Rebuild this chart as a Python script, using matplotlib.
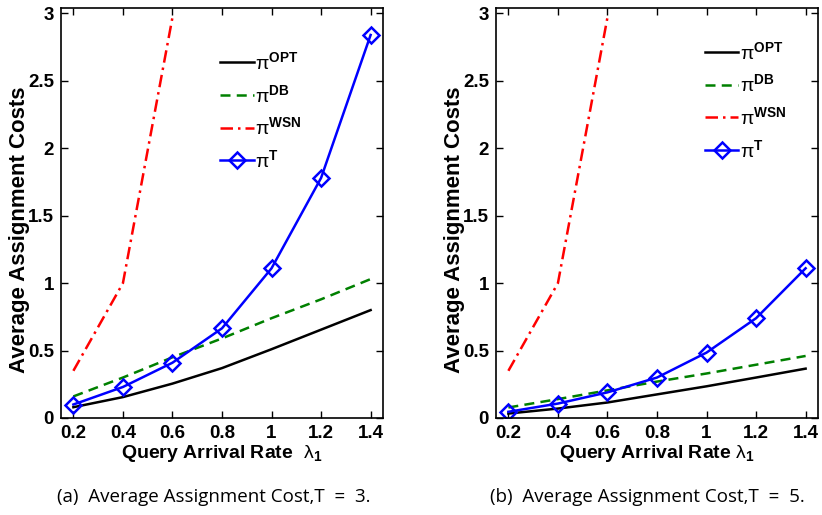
import numpy as np
import matplotlib
matplotlib.use('Agg')
import matplotlib.pyplot as plt

plt.rcParams['font.family'] = ['Liberation Sans', 'DejaVu Sans']
plt.rcParams['mathtext.fontset'] = 'custom'
plt.rcParams['mathtext.rm'] = 'Liberation Sans'
plt.rcParams['mathtext.it'] = 'Liberation Sans:italic'
plt.rcParams['mathtext.bf'] = 'Liberation Sans:bold'

# arrival rates
lam = [0.2, 0.4, 0.6, 0.8, 1.0, 1.2, 1.4]
lam_wsn = [0.2, 0.4, 0.6]

# T = 3
opt_t3 = [0.08, 0.155, 0.255, 0.37, 0.51, 0.655, 0.80]
db_t3 = [0.16, 0.30, 0.45, 0.59, 0.74, 0.88, 1.03]
wsn_t3 = [0.35, 1.0, 2.97]
tp_t3 = [0.10, 0.23, 0.41, 0.665, 1.11, 1.78, 2.84]

# T = 5
opt_t5 = [0.033, 0.07, 0.115, 0.175, 0.235, 0.30, 0.366]
db_t5 = [0.078, 0.14, 0.205, 0.27, 0.33, 0.395, 0.46]
wsn_t5 = [0.35, 1.0, 2.97]
tp_t5 = [0.046, 0.107, 0.19, 0.30, 0.485, 0.74, 1.11]

xticks = [0.2, 0.4, 0.6, 0.8, 1.0, 1.2, 1.4]
xticklabels = ['0.2', '0.4', '0.6', '0.8', '1', '1.2', '1.4']
yticks = [0, 0.5, 1, 1.5, 2, 2.5, 3]
yticklabels = ['0', '0.5', '1', '1.5', '2', '2.5', '3']

labels = [r'$\mathrm{\pi}^{\mathbf{OPT}}$', r'$\mathrm{\pi}^{\mathbf{DB}}$',
          r'$\mathrm{\pi}^{\mathbf{WSN}}$', r'$\mathrm{\pi}^{\mathbf{T}}$']

fig = plt.figure(figsize=(8.22, 5.15), dpi=100)
ax1 = fig.add_axes([61/822, 97/515, 322/822, 410/515])
ax2 = fig.add_axes([496/822, 97/515, 322/822, 410/515])

panels = [
    (ax1, opt_t3, db_t3, wsn_t3, tp_t3, r'Query Arrival Rate  $\mathrm{\lambda}_{\mathbf{1}}$',
     (0.465, 0.918), '(a)  Average Assignment Cost,T  =  3.', 214),
    (ax2, opt_t5, db_t5, wsn_t5, tp_t5, r'Query Arrival Rate $\mathrm{\lambda}_{\mathbf{1}}$',
     (0.62, 0.943), '(b)  Average Assignment Cost,T  =  5.', 647),
]

for ax, opt, db, wsn, tp, xl, lpos, cap, cx in panels:
    ax.plot(lam, opt, color='black', lw=1.8, label=labels[0])
    ax.plot(lam, db, color=(0, 0.5, 0), lw=1.8, ls=(0, (4, 2.5)), label=labels[1])
    ax.plot(lam_wsn, wsn, color='red', lw=1.8, ls=(0, (5, 2, 1, 2)), label=labels[2])
    ax.plot(lam, tp, color='blue', lw=1.8, marker='D', ms=8, mfc='none',
            mew=1.8, label=labels[3])
    ax.set_xlim(0.15, 1.45)
    ax.set_ylim(0, 3.04)
    ax.set_xticks(xticks)
    ax.set_xticklabels(xticklabels)
    ax.set_yticks(yticks)
    ax.set_yticklabels(yticklabels)
    ax.tick_params(direction='in', top=True, right=True, length=5, width=1,
                   labelsize=13.5, pad=5)
    for t in ax.get_xticklabels() + ax.get_yticklabels():
        t.set_fontweight('bold')
    for s in ax.spines.values():
        s.set_linewidth(1.2)
    ax.set_xlabel(xl, fontsize=14, fontweight='bold', labelpad=1)
    ax.set_ylabel('Average Assignment Costs', fontsize=16, fontweight='bold', labelpad=0)
    ax.yaxis.set_label_coords(-0.097, 0.46)
    ax.legend(loc='upper left', bbox_to_anchor=lpos, frameon=False, fontsize=14,
              handlelength=1.7, handletextpad=0.1, labelspacing=0.55, borderpad=0)
    fig.text(cx/822, 1 - 497/515, cap, ha='center', va='center', fontsize=13.5,
             family=['Open Sans', 'DejaVu Sans'])

fig.savefig('out.png', dpi=100)
